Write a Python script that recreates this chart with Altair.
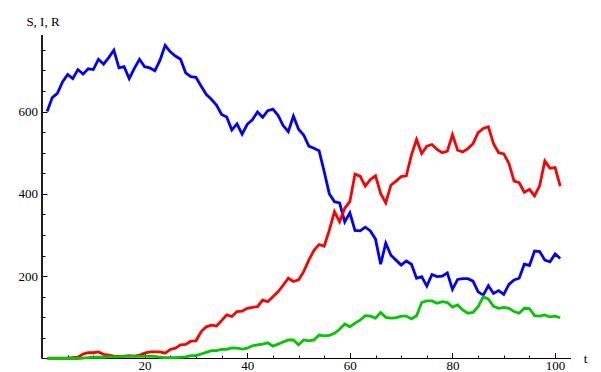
import altair as alt
import pandas as pd

# time steps
t = list(range(1, 102))

# Susceptible
S = [600, 634, 644, 672, 690, 680, 702, 691, 704, 702,
     727, 715, 731, 749, 706, 709, 680, 705, 727, 709,
     706, 699, 725, 761, 745, 735, 727, 694, 685, 683,
     662, 642, 630, 616, 593, 587, 555, 570, 545, 569,
     580, 599, 586, 602, 606, 591, 566, 551, 589, 557,
     543, 516, 511, 505, 454, 400, 381, 378, 332, 354,
     311, 310, 319, 310, 290, 229, 280, 251, 239, 227,
     237, 229, 195, 199, 176, 204, 199, 200, 208, 168,
     192, 194, 194, 188, 162, 154, 177, 158, 165, 156,
     180, 191, 195, 229, 226, 261, 260, 239, 235, 254,
     243]

# Infected
I = [1, 1, 1, 1, 1, 2, 3, 11, 14, 14,
     16, 10, 8, 6, 5, 6, 7, 6, 8, 13,
     16, 16, 16, 13, 22, 25, 33, 34, 42, 43,
     65, 77, 81, 79, 92, 106, 102, 114, 115, 122,
     124, 126, 142, 138, 150, 162, 178, 195, 187, 191,
     211, 239, 263, 277, 273, 312, 357, 332, 365, 381,
     448, 443, 419, 435, 444, 401, 378, 421, 431, 442,
     444, 494, 532, 498, 516, 520, 508, 500, 504, 544,
     506, 502, 510, 522, 549, 559, 563, 522, 500, 497,
     474, 431, 427, 404, 411, 395, 420, 480, 462, 464,
     419]

# Recovered
R = [0, 0, 0, 0, 0, 0, 0, 1, 2, 3,
     3, 3, 4, 4, 4, 5, 5, 5, 5, 5,
     6, 5, 3, 2, 2, 2, 3, 4, 7, 7,
     11, 15, 19, 19, 22, 22, 26, 25, 23, 25,
     31, 33, 35, 38, 30, 35, 40, 45, 45, 33,
     45, 43, 45, 57, 55, 56, 61, 71, 84, 77,
     86, 93, 104, 103, 98, 112, 100, 98, 99, 103,
     103, 96, 104, 136, 140, 140, 134, 138, 136, 125,
     130, 118, 110, 112, 126, 150, 144, 127, 122, 124,
     122, 114, 110, 122, 121, 104, 103, 106, 101, 103,
     99]

series_names = ["S", "I", "R"]
series_colors = ["#0000ff", "#ff0000", "#00c800"]

x_major = [20, 40, 60, 80, 100]
x_minor = list(range(5, 105, 5))
y_major = [200, 400, 600]
y_minor = list(range(50, 800, 50))

rows = []
for name, vals in zip(series_names, [S, I, R]):
    for ti, v in zip(t, vals):
        rows.append({"t": ti, "value": v, "series": name})
df = pd.DataFrame(rows)

FONT = "Liberation Serif"
xs = alt.Scale(domain=[0, 103.1], nice=False, zero=False)
ys = alt.Scale(domain=[0, 786], nice=False, zero=False)
cs = alt.Scale(domain=series_names, range=series_colors)

x_major_axis = alt.Axis(
    values=x_major, orient="bottom", offset=-6, tickSize=6, domain=False,
    grid=False, tickColor="black", tickWidth=1, labelFont=FONT,
    labelFontSize=13, labelColor="black", labelPadding=1,
    labelFlush=False, labelOverlap=False, title="t", titleFont=FONT,
    titleFontSize=13, titleFontWeight="normal", titleColor="black",
    titleAngle=0, titleAlign="center", titleBaseline="alphabetic",
    titleX=543, titleY=9.5,
)
y_major_axis = alt.Axis(
    values=y_major, orient="left", offset=-5, tickSize=5, domain=False,
    grid=False, tickColor="black", tickWidth=1, labelFont=FONT,
    labelFontSize=13, labelColor="black", labelPadding=4.5,
    labelOverlap=False, title="S, I, R", titleFont=FONT,
    titleFontSize=13, titleFontWeight="normal", titleColor="black",
    titleAngle=0, titleAlign="center", titleBaseline="alphabetic",
    titleX=-4.5, titleY=-10,
)
x_minor_axis = alt.Axis(
    values=x_minor, orient="bottom", offset=-3.5, tickSize=3.5,
    domain=False, grid=False, labels=False, title=None,
    tickColor="black", tickWidth=1,
)
y_minor_axis = alt.Axis(
    values=y_minor, orient="left", offset=-3, tickSize=3,
    domain=False, grid=False, labels=False, title=None,
    tickColor="black", tickWidth=1,
)

minor = alt.Chart(df).mark_line(opacity=0).encode(
    x=alt.X("t:Q", scale=xs, axis=x_minor_axis),
    y=alt.Y("value:Q", scale=ys, axis=y_minor_axis),
    detail="series:N",
)

x_line = alt.Chart(df).mark_rule(color="black", strokeWidth=1).encode(
    y=alt.YDatum(0, scale=ys, axis=None)
)
y_line = alt.Chart(df).mark_rule(color="black", strokeWidth=1).encode(
    x=alt.XDatum(0, scale=xs, axis=None)
)


def series_layer(name, with_axes):
    return alt.Chart(df).transform_filter(
        alt.datum.series == name
    ).mark_line(strokeWidth=2.8, strokeJoin="miter").encode(
        x=alt.X("t:Q", scale=xs, axis=x_major_axis if with_axes else None),
        y=alt.Y("value:Q", scale=ys, axis=y_major_axis if with_axes else None),
        color=alt.Color("series:N", scale=cs, legend=None),
    )


chart = alt.layer(
    minor,
    x_line.transform_filter(alt.datum.t == 1),
    y_line.transform_filter(alt.datum.t == 1),
    series_layer("S", True),
    series_layer("I", False),
    series_layer("R", False),
).resolve_axis(
    x="independent", y="independent"
).properties(
    width=529, height=323.5,
    padding={"left": 42, "top": 35, "right": 30, "bottom": 13.5},
    autosize=alt.AutoSizeParams(type="none"),
    background="white",
).configure_view(stroke=None)

chart.save("out.html", embed_options={"renderer": "svg", "actions": False})
